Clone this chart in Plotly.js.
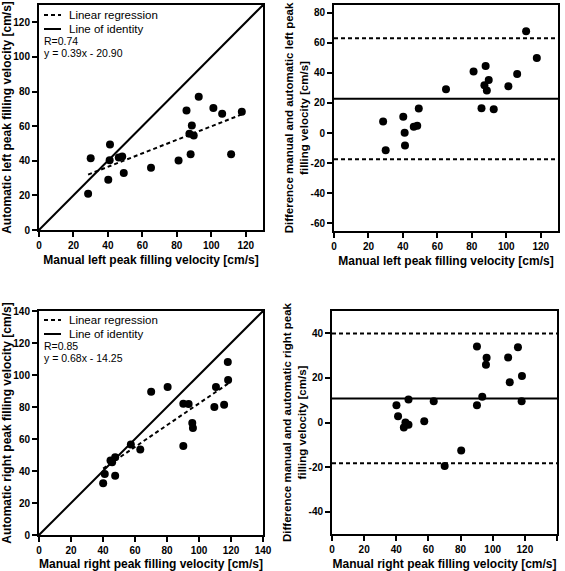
<!DOCTYPE html>
<html><head><meta charset="utf-8">
<script src="https://cdn.plot.ly/plotly-3.0.1.min.js"></script>
<style>html,body{margin:0;padding:0;background:#fff}</style>
</head><body><div id="chart" style="width:565px;height:571px"></div>
<script>
// ---- data ----
const leftManual = [28.5,30,40.2,41,41.2,46.3,48.3,49.2,65,81,85.6,88,87.3,88.7,89.8,92.7,101.2,106.3,111.5,117.7];
const leftAuto   = [21,41.5,29,40.3,49.4,41.9,42.5,33,35.9,40.2,69.1,43.8,55.6,60.4,54.6,77,70.5,67.2,43.8,68.3];
const leftDiff   = [7.6,-11.4,10.9,0.2,-8.2,4.2,4.9,16.3,29,40.8,16.5,44.5,31.8,28.3,35.2,15.8,31,39.2,67.5,49.9];
const leftReg    = [0.39, 20.90];           // slope, intercept of drawn line
const leftStats  = ["R=0.74", "y = 0.39x - 20.90"];
const leftBA     = [22.8, 63.0, -17.4];     // bias, upper, lower limits

const rightManual = [40.1,41.1,44.7,45.7,47.6,47.6,57.4,63.3,70.1,80.4,90.2,90.2,93.5,95.8,96.2,109.6,110.6,115.7,118,118.2];
const rightAuto   = [32.4,38.2,46.6,45.5,37,48.6,56.6,53.4,89.6,92.5,55.7,82,81.8,70,66.8,80,92.5,81.4,108.1,96.9];
const rightDiff   = [7.7,2.8,-2.2,0,10.3,-1,0.6,9.5,-19.5,-12.5,34.1,7.7,11.6,25.9,29,29.2,18,33.8,9.5,20.8];
const rightReg    = [0.68, 14.25];
const rightStats  = ["R=0.85", "y = 0.68x - 14.25"];
const rightBA     = [10.8, 39.9, -18.3];

const legendLabels = ["Linear regression", "Line of identity"];
const leftRangeX = [0,130], leftRangeY = [0,130], leftBARangeY = [-65,85];
const rightRangeX = [0,140], rightRangeY = [0,140], rightBARangeY = [-50,50];
const leftTicks = [0,20,40,60,80,100,120], leftBATicks = [-60,-40,-20,0,20,40,60,80];
const rightTicks = [0,20,40,60,80,100,120,140], rightBATicks = [-40,-20,0,20,40];

// ---- build ----
const FONT = "Liberation Sans, Arial, Helvetica, sans-serif";
const DASH = "4px,3px";
const W = 565, H = 571;
function regLine(xs, reg){
  const x0 = Math.min(...xs), x1 = Math.max(...xs);
  return {x:[x0,x1], y:[reg[0]*x0+reg[1], reg[0]*x1+reg[1]]};
}
function pts(x,y,xa,ya){
  return {type:'scatter',mode:'markers',x:x,y:y,xaxis:xa,yaxis:ya,showlegend:false,
    marker:{color:'#000',size:8},hoverinfo:'skip'};
}
function line(x,y,xa,ya,dash){
  return {type:'scatter',mode:'lines',x:x,y:y,xaxis:xa,yaxis:ya,showlegend:false,
    line:{color:'#000',width:2,dash:dash}};
}
const lr = regLine(leftManual,leftReg), rr = regLine(rightManual,rightReg);
const traces = [
  line(lr.x,lr.y,'x','y',DASH),
  line(leftRangeX,leftRangeX,'x','y','solid'),
  pts(leftManual,leftAuto,'x','y'),
  line(leftRangeX,[leftBA[0],leftBA[0]],'x2','y2','solid'),
  line(leftRangeX,[leftBA[1],leftBA[1]],'x2','y2',DASH),
  line(leftRangeX,[leftBA[2],leftBA[2]],'x2','y2',DASH),
  pts(leftManual,leftDiff,'x2','y2'),
  line(rr.x,rr.y,'x3','y3',DASH),
  line(rightRangeX,rightRangeX,'x3','y3','solid'),
  pts(rightManual,rightAuto,'x3','y3'),
  line(rightRangeX,[rightBA[0],rightBA[0]],'x4','y4','solid'),
  line(rightRangeX,[rightBA[1],rightBA[1]],'x4','y4',DASH),
  line(rightRangeX,[rightBA[2],rightBA[2]],'x4','y4',DASH),
  pts(rightManual,rightDiff,'x4','y4'),
];

function axis(dom, rng, ticks, title, anchor, standoff, tsize){
  return {domain:dom, range:rng, anchor:anchor, tickvals:ticks, ticktext:ticks.map(String),
    showgrid:false, zeroline:false, showline:true, mirror:true, linecolor:'#000', linewidth:2,
    ticks:'outside', ticklen:5, tickwidth:2, tickcolor:'#000',
    tickfont:{family:FONT,size:10,color:'#000',weight:'bold'},
    title:{text:title, font:{family:FONT,size:tsize||12,color:'#000',weight:'bold'}, standoff:standoff},
    automargin:false, fixedrange:true};
}
const dTLx=[39/W,263/W], dTRx=[334/W,558/W], dBLx=[39/W,263/W], dBRx=[332/W,557/W];
const dTy=[1-230/H,1-5/H], dTRy=[1-231/H,1-5/H], dBy=[1-535/H,1-311/H], dBRy=[1-534/H,1-311/H];

// legend drawn as layout decoration (sample lines + labels), positioned in pixels of the page
const shapes = [], annotations = [];
function legendBlock(topRowY, statsTxt){
  const rows = [topRowY, topRowY+14];
  [DASH,'solid'].forEach((d,i)=>{
    shapes.push({type:'line', xref:'paper', yref:'paper', x0:44/W, x1:61/W, y0:1-rows[i]/H, y1:1-rows[i]/H,
      line:{color:'#000', width:2, dash:d}});
    annotations.push({text:legendLabels[i], xref:'paper', yref:'paper', x:67/W, y:1-rows[i]/H,
      xanchor:'left', yanchor:'middle', showarrow:false, font:{family:FONT,size:11.5,color:'#000'}});
  });
  statsTxt.forEach((t,i)=>{
    annotations.push({text:t, xref:'paper', yref:'paper', x:42/W, y:1-(topRowY+26+12*i)/H,
      xanchor:'left', yanchor:'middle', showarrow:false, font:{family:FONT,size:10.5,color:'#000'}});
  });
}
legendBlock(15, leftStats);
legendBlock(320, rightStats);

const layout = {
  width:W, height:H, margin:{l:0,r:0,t:0,b:0}, paper_bgcolor:'#fff', plot_bgcolor:'#fff',
  xaxis: axis(dTLx, leftRangeX, leftTicks, 'Manual left peak filling velocity [cm/s]', 'y', 6),
  yaxis: axis(dTy, leftRangeY, leftTicks, 'Automatic left peak filling velocity [cm/s]', 'x', 4),
  xaxis2: axis(dTRx, leftRangeX, leftTicks, 'Manual left peak filling velocity [cm/s]', 'y2', 6),
  yaxis2: axis(dTRy, leftBARangeY, leftBATicks, 'Difference manual and automatic left peak<br>filling velocity [cm/s]', 'x2', 0, 11.5),
  xaxis3: axis(dBLx, rightRangeX, rightTicks, 'Manual right peak filling velocity [cm/s]', 'y3', 6),
  yaxis3: axis(dBy, rightRangeY, rightTicks, 'Automatic right peak filling velocity [cm/s]', 'x3', 4),
  xaxis4: axis(dBRx, rightRangeX, rightTicks, 'Manual right peak filling velocity [cm/s]', 'y4', 6),
  yaxis4: axis(dBRy, rightBARangeY, rightBATicks, 'Difference manual and automatic right peak<br>filling velocity [cm/s]', 'x4', 0, 11.5),
  shapes: shapes,
  annotations: annotations,
  showlegend:false
};
Plotly.newPlot('chart', traces, layout, {displayModeBar:false, staticPlot:true});
</script></body></html>
